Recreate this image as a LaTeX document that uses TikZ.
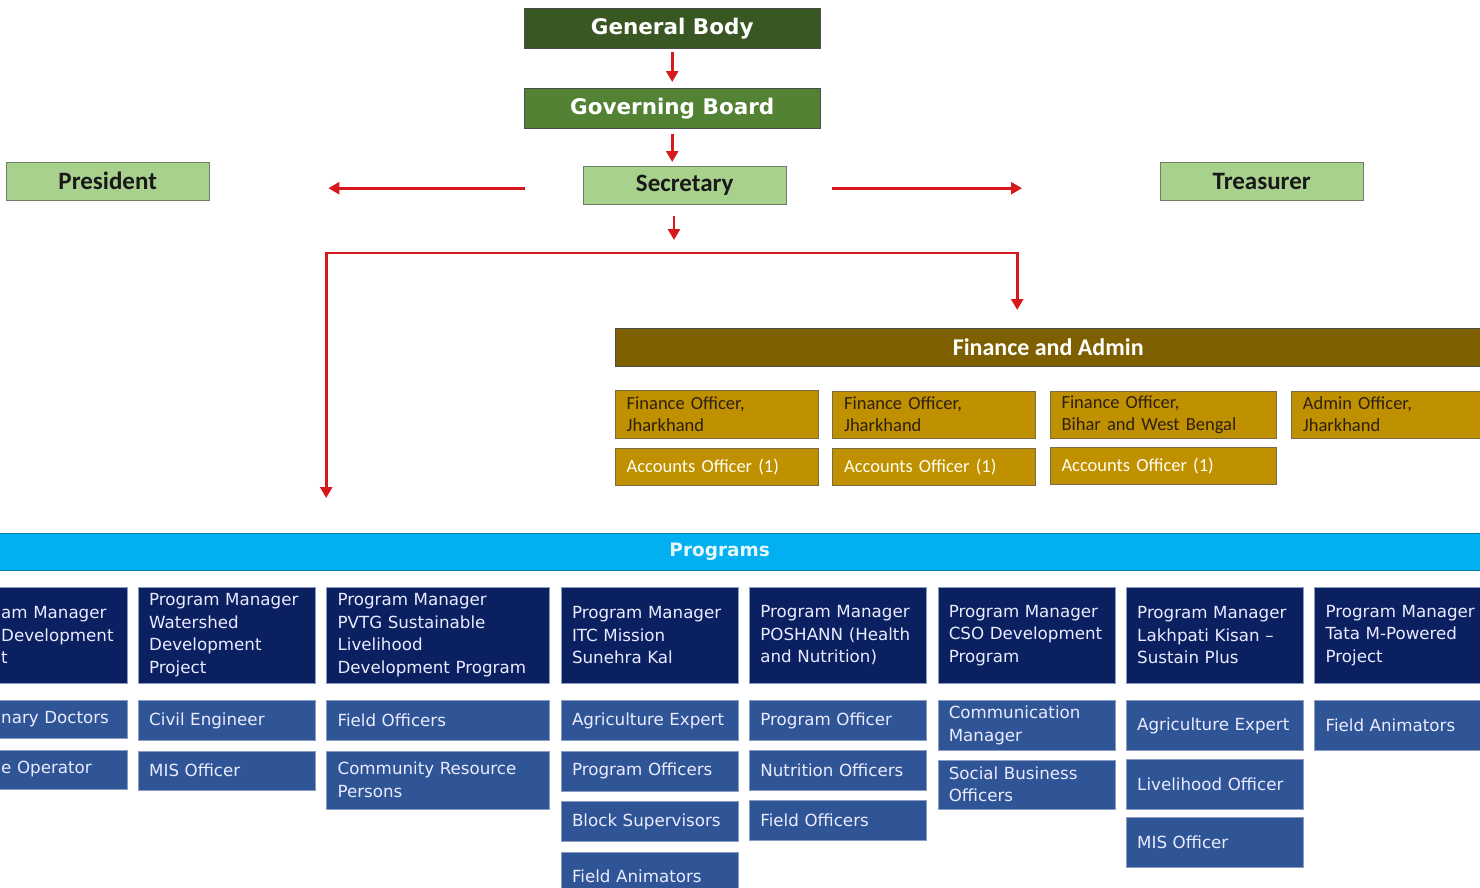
\documentclass[tikz,border=0pt]{standalone}
\usepackage{fontspec}
\setmainfont{DejaVu Sans}
\newfontfamily\narrowfont{Carlito}
\usepackage{xcolor}
\usetikzlibrary{positioning,arrows,arrows.meta}

\definecolor{darkgreen}{HTML}{385723}
\definecolor{midgreen}{HTML}{548235}
\definecolor{lightgreen}{HTML}{A9D18E}
\definecolor{rolegray}{HTML}{6E7F66}
\definecolor{finbrown}{HTML}{7F6000}
\definecolor{gold}{HTML}{BF9000}
\definecolor{fingray}{HTML}{7A6A45}
\definecolor{findark}{HTML}{2E2010}
\definecolor{progcyan}{HTML}{00B0F0}
\definecolor{pmnavy}{HTML}{0A2060}
\definecolor{subblue}{HTML}{2F5597}
\definecolor{boxline}{HTML}{8A9CC2}
\definecolor{arrowred}{HTML}{D7191E}

\begin{document}
\begin{tikzpicture}[x=1pt, y=1pt]
    \tikzset{
      head/.style = {rectangle, draw=gray!60!black, anchor=north west, minimum width=296pt, minimum height=40pt, text=white, font=\fontsize{21.5}{24}\selectfont\bfseries},
      role/.style = {rectangle, draw=rolegray, fill=lightgreen, anchor=north west, minimum width=203pt, minimum height=38pt, text=black!90, font=\narrowfont\fontsize{25}{28}\selectfont\bfseries},
      finhead/.style = {rectangle, draw=gray!60!black, fill=finbrown, anchor=north west, minimum width=866pt, minimum height=38pt, text=white, font=\narrowfont\fontsize{24}{27}\selectfont\bfseries},
      finbox/.style = {rectangle, draw=fingray, fill=gold, anchor=north west, minimum width=203pt, text width=180pt, inner xsep=11.5pt, inner ysep=0pt, align=left, text=findark, font=\narrowfont\fontsize{18.5}{22}\selectfont},
      accbox/.style = {finbox, minimum height=37pt, text=white!95!yellow},
      progbar/.style = {rectangle, draw=progcyan!70!black, fill=progcyan, anchor=north west, minimum width=1523pt, minimum height=37pt, text=white!90!cyan, font=\fontsize{18.5}{22}\selectfont\bfseries},
      pm/.style = {rectangle, draw=boxline, fill=pmnavy, anchor=north west, minimum width=177pt, text width=155pt, minimum height=96pt, inner xsep=11pt, inner ysep=0pt, align=left, text=white!92!blue, font=\fontsize{16.7}{22.5}\selectfont},
      sub/.style = {pm, fill=subblue, minimum height=40pt},
      tall/.style = {minimum height=50pt},
      wide/.style = {minimum width=223pt, text width=201pt},
      arrow/.style = {draw=arrowred, line width=2.6pt, -{Triangle[length=11pt,width=12pt]}}
    }

    \useasboundingbox (0,-887) rectangle (1480,0);
    \clip (0,-887) rectangle (1480,0);

    \node (gbody) [head, fill=darkgreen] at (524,-8) {General Body};
    \node (gov) [head, fill=midgreen] at (524,-88) {Governing Board};
    \node (sec) [role] at (583,-166) {Secretary};
    \node (pres) [role] at (6,-162) {President};
    \node (treas) [role] at (1160,-162) {Treasurer};
    \coordinate (fork) at (674,-253);

    \node (fin) [finhead] at (615,-328) {Finance and Admin};
    \node (fin1) [finbox, minimum height=48pt] at (615,-390) {Finance Officer,\\Jharkhand};
    \node (fin2) [finbox, minimum height=47pt, right=14pt of fin1] {Finance Officer,\\Jharkhand};
    \node (fin3) [finbox, minimum height=47pt, minimum width=226pt, text width=203pt, right=14pt of fin2] {Finance Officer,\\Bihar and West Bengal};
    \node (adm) [finbox, minimum height=47pt, minimum width=200pt, text width=177pt, right=15pt of fin3] {Admin Officer,\\Jharkhand};
    \node (acc1) [accbox, below=10pt of fin1] {Accounts Officer (1)};
    \node (acc2) [accbox, below=10pt of fin2] {Accounts Officer (1)};
    \node (acc3) [accbox, minimum width=226pt, text width=203pt, below=9pt of fin3] {Accounts Officer (1)};

    \node (prog) [progbar] at (-42,-533) {Programs};

    \node (pm1) [pm, minimum width=137pt, text width=115pt] at (-10,-587) {am Manager\\Development\\t};
    \node (pm2) [pm] at (138,-587) {Program Manager\\Watershed\\Development\\Project};
    \node (pm3) [pm, wide, right=11pt of pm2] {Program Manager\\PVTG Sustainable\\Livelihood\\Development Program};
    \node (pm4) [pm, right=11pt of pm3] {Program Manager\\ITC Mission\\Sunehra Kal};
    \node (pm5) [pm, right=11pt of pm4] {Program Manager\\POSHANN (Health\\and Nutrition)};
    \node (pm6) [pm, right=11pt of pm5] {Program Manager\\CSO Development\\Program};
    \node (pm7) [pm, right=11pt of pm6] {Program Manager\\Lakhpati Kisan –\\Sustain Plus};
    \node (pm8) [pm, minimum width=180pt, text width=158pt, right=11pt of pm7] {Program Manager\\Tata M-Powered\\Project};

    \node (doc1) [sub, minimum width=137pt, text width=115pt, minimum height=38pt, below=17pt of pm1] {nary Doctors};
    \node (opr1) [sub, minimum width=137pt, text width=115pt, minimum height=39pt, below=11pt of doc1] {e Operator};
    \node (civ2) [sub, below=17pt of pm2] {Civil Engineer};
    \node (mis2) [sub, minimum height=39pt, below=10pt of civ2] {MIS Officer};
    \node (fld3) [sub, wide, below=17pt of pm3] {Field Officers};
    \node (crp3) [sub, wide, minimum height=58pt, below=10pt of fld3] {Community Resource\\Persons};
    \node (agr4) [sub, below=17pt of pm4] {Agriculture Expert};
    \node (pof4) [sub, below=10pt of agr4] {Program Officers};
    \node (blk4) [sub, below=10pt of pof4] {Block Supervisors};
    \node (ani4) [sub, minimum height=48pt, below=10pt of blk4] {Field Animators};
    \node (pof5) [sub, below=17pt of pm5] {Program Officer};
    \node (nut5) [sub, below=9pt of pof5] {Nutrition Officers};
    \node (fld5) [sub, below=10pt of nut5] {Field Officers};
    \node (com6) [sub, tall, below=17pt of pm6] {Communication\\Manager};
    \node (soc6) [sub, minimum height=49pt, below=9pt of com6] {Social Business\\Officers};
    \node (agr7) [sub, tall, below=17pt of pm7] {Agriculture Expert};
    \node (liv7) [sub, tall, below=8pt of agr7] {Livelihood Officer};
    \node (mis7) [sub, tall, below=8pt of liv7] {MIS Officer};
    \node (ani8) [sub, tall, minimum width=180pt, text width=158pt, below=17pt of pm8] {Field Animators};

    \draw [arrow, shorten <=4pt, shorten >=6pt] (gbody) -- (gov);
    \draw [arrow, shorten <=6pt, shorten >=4pt] (gov.south) -- (gov.south |- sec.north);
    \draw [arrow, shorten <=58pt, shorten >=119pt] ([yshift=-3pt]sec.west) -- ([yshift=-3pt]sec.west -| pres.east);
    \draw [arrow, shorten <=46pt, shorten >=138pt] ([yshift=-3pt]sec.east) -- ([yshift=-3pt]sec.east -| treas.west);
    \draw [arrow, shorten <=12pt, shorten >=13pt] (sec.south -| fork) -- (fork);
    \draw [arrow, shorten >=18pt] (fork) -| ([xshift=-31pt]fin.north);
    \draw [arrow, shorten >=35pt] (fork) -| ([xshift=-393.5pt]prog.north);
\end{tikzpicture}
\end{document}
